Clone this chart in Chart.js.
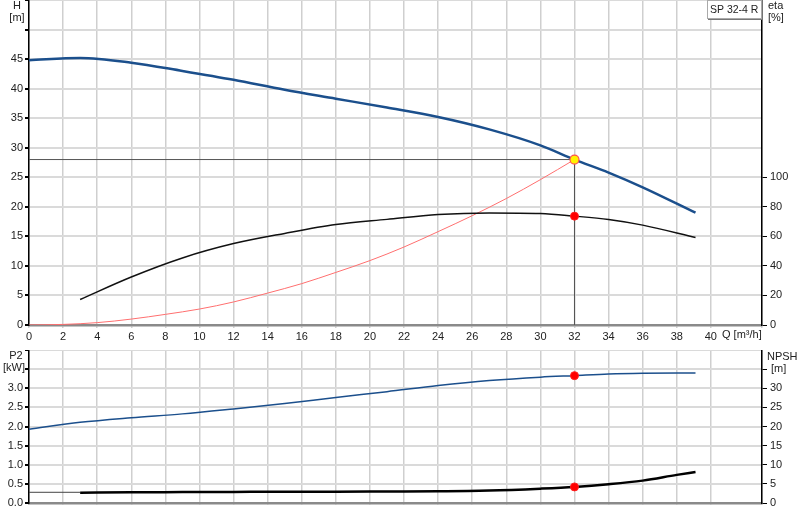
<!DOCTYPE html>
<html>
<head>
<meta charset="utf-8">
<script src="https://cdn.jsdelivr.net/npm/chart.js@4.4.1/dist/chart.umd.min.js"></script>
<style>
body { margin: 0; background: #fff; }
#top { position: absolute; left: 0; top: 0; }
#bot { position: absolute; left: 0; top: 350px; }
</style>
</head>
<body>
<canvas id="top" width="800" height="350"></canvas>
<canvas id="bot" width="800" height="170"></canvas>
<script>
// pump curve SP 32-4 R
var qHead = [0, 3, 6, 9, 12, 15, 18, 21, 24, 27, 30, 32, 34, 36, 39.1];
var headValues = [44.8, 45.2, 44.4, 43.0, 41.5, 39.8, 38.3, 36.8, 35.2, 33.1, 30.4, 28.0, 25.8, 23.3, 19.0];

var qEta = [3, 6, 9, 12, 15, 18, 21, 24, 27, 30, 32, 34, 36, 39.1];
var etaValues = [17.3, 32.5, 45.4, 55.1, 62.0, 68.0, 71.5, 74.8, 75.9, 75.5, 73.7, 71.4, 67.6, 59.2];

var qSystem = [0, 2, 4, 6, 8, 10, 12, 14, 16, 18, 20, 22, 24, 26, 28, 30, 32];
var systemHead = [0, 0.1, 0.4, 1.0, 1.8, 2.7, 3.9, 5.4, 7.0, 8.9, 10.9, 13.2, 15.8, 18.5, 21.4, 24.6, 28.0];

var qP2 = [0, 3, 6, 9, 12, 15, 18, 21, 24, 27, 30, 32, 34, 36, 39.1];
var p2Values = [1.93, 2.11, 2.23, 2.33, 2.46, 2.60, 2.76, 2.91, 3.07, 3.20, 3.29, 3.33, 3.37, 3.39, 3.40];

var qNpshLow = [0, 3];
var npshLow = [2.8, 2.8];
var qNpsh = [3, 6, 9, 12, 15, 18, 21, 24, 27, 30, 32, 34, 36, 38, 39.1];
var npshValues = [2.7, 2.8, 2.85, 2.9, 2.95, 2.95, 3.0, 3.05, 3.25, 3.75, 4.2, 4.9, 5.85, 7.35, 8.1];

var dutyQ = 32, dutyH = 28, dutyEta = 73.7, dutyP2 = 3.33, dutyNpsh = 4.2;

var qMax = 43, qLabelMax = 40, qStep = 2;
var headMax = 55, headLabelMax = 45, headStep = 5;
var etaMax = 220, etaLabelMax = 100, etaStep = 20;
var p2Max = 4, p2LabelMax = 3, p2Step = 0.5;
var npshMax = 40, npshTickMax = 35, npshLabelMax = 30, npshStep = 5;

Chart.defaults.font.family = '"Liberation Sans", Arial, sans-serif';
Chart.defaults.font.size = 11;
Chart.defaults.color = '#222';

function pts(xs, ys) {
    return xs.map(function (x, i) { return {x: x, y: ys[i]}; });
}

// lower order is painted on top
function line(data, color, width, order, extra) {
    var d = {data: data, showLine: true, borderColor: color, borderWidth: width,
             pointRadius: 0, cubicInterpolationMode: 'monotone', order: order};
    for (var k in extra) d[k] = extra[k];
    return d;
}

function dot(data, axis) {
    return {data: data, yAxisID: axis, pointRadius: 4, pointBorderWidth: 1, order: -1,
            pointBackgroundColor: '#ff0000', pointBorderColor: '#ff2020'};
}

var yGrid = {color: '#dadada', lineWidth: 2, tickLength: 4, tickColor: '#000'};

// fixed axis boxes so the plot areas sit where the datasheet has them
function fixW(w) {
    return function (s) { s.width = w; s.paddingTop = 0; s.paddingBottom = 0; };
}

function texts(list) {
    return {
        id: 'texts',
        afterDraw: function (chart) {
            var ctx = chart.ctx;
            ctx.save();
            ctx.font = '11px "Liberation Sans", Arial, sans-serif';
            ctx.fillStyle = '#222';
            ctx.textBaseline = 'middle';
            list.forEach(function (t) {
                ctx.textAlign = t[3] || 'left';
                ctx.fillText(t[0], t[1], t[2]);
            });
            ctx.restore();
        }
    };
}

var boxPlugin = {
    id: 'box',
    afterDraw: function (chart) {
        var ctx = chart.ctx;
        ctx.save();
        ctx.fillStyle = '#fff';
        ctx.fillRect(707, 0, 55, 19);
        ctx.strokeStyle = '#aaa';
        ctx.lineWidth = 1;
        ctx.strokeRect(707.5, 0.5, 54, 18);
        ctx.strokeStyle = '#777';
        ctx.beginPath();
        ctx.moveTo(708, 19.5); ctx.lineTo(762, 19.5);
        ctx.stroke();
        ctx.font = '10.5px "Liberation Sans", Arial, sans-serif';
        ctx.fillStyle = '#222';
        ctx.textBaseline = 'middle';
        ctx.fillText('SP 32-4 R', 710, 10);
        ctx.restore();
    }
};

new Chart(document.getElementById('top'), {
    type: 'scatter',
    data: {
        datasets: [
            line([{x: 0, y: dutyH}, {x: dutyQ, y: dutyH}, {x: dutyQ, y: 0}], '#555', 1, 4, {cubicInterpolationMode: 'default', tension: 0}),
            line(pts(qSystem, systemHead), '#ff6f6f', 1, 3),
            line(pts(qEta, etaValues), '#111', 1.5, 2, {yAxisID: 'yEta'}),
            line(pts(qHead, headValues), '#1b4f8c', 2.5, 1),
            dot([{x: dutyQ, y: dutyEta}], 'yEta'),
            {data: [{x: dutyQ, y: dutyH}], pointRadius: 4.5, pointBorderWidth: 1.2, order: -2,
             pointBackgroundColor: '#fff200', pointBorderColor: '#ff5050'}
        ]
    },
    options: {
        responsive: false,
        animation: false,
        layout: {padding: 0, autoPadding: false},
        plugins: {legend: {display: false}, tooltip: {enabled: false}},
        scales: {
            x: {
                type: 'linear', min: 0, max: qMax,
                ticks: {stepSize: qStep, autoSkip: false, maxRotation: 0, padding: 2,
                        callback: function (v) { return v <= qLabelMax ? v : ''; }},
                grid: {color: '#cfcfcf', lineWidth: 1.5, tickLength: 3},
                border: {color: '#8a8a8a', width: 2.5},
                afterFit: function (s) { s.height = 25; }
            },
            y: {
                min: 0, max: headMax,
                ticks: {stepSize: headStep, padding: 2,
                        callback: function (v) { return v <= headLabelMax ? v : ''; }},
                grid: yGrid,
                border: {color: '#000', width: 1.5},
                afterFit: fixW(29)
            },
            yEta: {
                position: 'right', min: 0, max: etaMax,
                afterBuildTicks: function (s) {
                    s.ticks = s.ticks.filter(function (t) { return t.value <= etaLabelMax; });
                },
                ticks: {stepSize: etaStep, padding: 3},
                grid: {drawOnChartArea: false, tickLength: 5, tickColor: '#000'},
                border: {color: '#000', width: 1.5},
                afterFit: fixW(38)
            }
        }
    },
    plugins: [boxPlugin, texts([
        ['H', 17, 6, 'center'], ['[m]', 17, 18, 'center'],
        ['eta', 768, 6], ['[%]', 768, 18],
        ['Q [m\u00b3/h]', 722, 335]
    ])]
});

new Chart(document.getElementById('bot'), {
    type: 'scatter',
    data: {
        datasets: [
            line(pts(qP2, p2Values), '#1b4f8c', 1.5, 1),
            line(pts(qNpshLow, npshLow), '#444', 1, 2, {yAxisID: 'yNpsh'}),
            line(pts(qNpsh, npshValues), '#000', 2.5, 1, {yAxisID: 'yNpsh'}),
            dot([{x: dutyQ, y: dutyP2}], 'y'),
            dot([{x: dutyQ, y: dutyNpsh}], 'yNpsh')
        ]
    },
    options: {
        responsive: false,
        animation: false,
        layout: {padding: 0, autoPadding: false},
        plugins: {legend: {display: false}, tooltip: {enabled: false}},
        scales: {
            x: {
                type: 'linear', min: 0, max: qMax,
                ticks: {stepSize: qStep, display: false},
                grid: {color: '#cfcfcf', lineWidth: 1.5, tickLength: 0},
                border: {color: '#8a8a8a', width: 2.5},
                afterFit: function (s) { s.height = 17; }
            },
            y: {
                min: 0, max: p2Max,
                ticks: {stepSize: p2Step, padding: 2,
                        callback: function (v) { return v <= p2LabelMax ? v.toFixed(1) : ''; }},
                grid: yGrid,
                border: {color: '#000', width: 1.5},
                afterFit: fixW(29)
            },
            yNpsh: {
                position: 'right', min: 0, max: npshMax,
                afterBuildTicks: function (s) {
                    s.ticks = s.ticks.filter(function (t) { return t.value <= npshTickMax; });
                },
                ticks: {stepSize: npshStep, padding: 3,
                        callback: function (v) { return v <= npshLabelMax ? v : ''; }},
                grid: {drawOnChartArea: false, tickLength: 5, tickColor: '#000'},
                border: {color: '#000', width: 1.5},
                afterFit: fixW(38)
            }
        }
    },
    plugins: [texts([
        ['P2', 16, 6, 'center'], ['[kW]', 14, 18, 'center'],
        ['NPSH', 767, 7], ['[m]', 771, 19]
    ])]
});
</script>
</body>
</html>
